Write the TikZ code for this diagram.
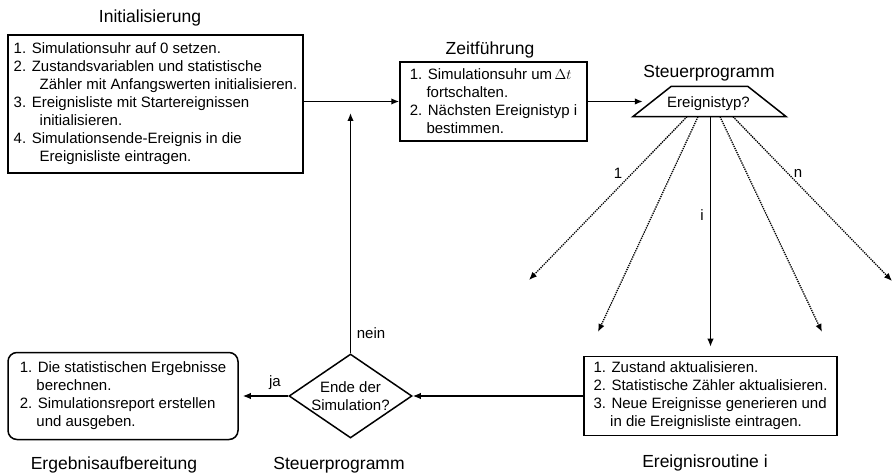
\documentclass[tikz,border=0pt]{standalone}
\usepackage{fontspec}
\setmainfont{Liberation Sans}
\usetikzlibrary{arrows.meta,shapes.geometric}
\newcommand{\boxfont}{\fontsize{15}{18}\selectfont}
\newcommand{\titlefont}{\fontsize{17.5}{21}\selectfont}
\newcommand{\contd}{\hphantom{1.\ }}
\newcommand{\continit}{\hspace*{26pt}}
\begin{document}
\begin{tikzpicture}[x=1pt,y=-1pt,
  box/.style={draw, line width=1.5pt, align=left, font=\boxfont, inner sep=0pt},
  title/.style={font=\titlefont, inner sep=0pt},
  lbl/.style={font=\boxfont, inner sep=0pt},
  arr/.style={line width=1.5pt, -{Latex[length=8pt,width=6.5pt]}},
  darr/.style={line width=1.3pt, densely dotted, -{Latex[length=8pt,width=6.5pt]}}]
\useasboundingbox (0,0) rectangle (895,473);

% titles
\node[title] (tinit) at (150,18) {Initialisierung};
\node[title] (tzeit) at (490,50) {Zeitführung};
\node[title] (tsteuer) at (709,73) {Steuerprogramm};
\node[title] (terg) at (114,465) {Ergebnisaufbereitung};
\node[title] (tsteuer2) at (339,465) {Steuerprogramm};
\node[title] (trout) at (705,463) {Ereignisroutine i};

% process boxes
\node[box, minimum width=295, minimum height=138] (init) at (155.5,104) {%
1. Simulationsuhr auf 0 setzen.\\
2. Zustandsvariablen und statistische\\
\continit Zähler mit Anfangswerten initialisieren.\\
3. Ereignisliste mit Startereignissen\\
\continit initialisieren.\\
4. Simulationsende-Ereignis in die\\
\continit Ereignisliste eintragen.};

\node[box, minimum width=187, minimum height=79] (zeit) at (493.5,101.5) {%
1. Simulationsuhr um\,$\Delta t$\\
\contd fortschalten.\\
2. Nächsten Ereignistyp i\\
\contd bestimmen.};

\node[box, minimum width=253, minimum height=79] (routine) at (710.5,396) {%
1. Zustand aktualisieren.\\
2. Statistische Zähler aktualisieren.\\
3. Neue Ereignisse generieren und\\
\contd in die Ereignisliste eintragen.};

\node[box, rounded corners=9pt, minimum width=230, minimum height=87] (erg) at (123,396) {%
1. Die statistischen Ergebnisse\\
\contd berechnen.\\
2. Simulationsreport erstellen\\
\contd und ausgeben.};

% event type selector (trapezium)
\node[minimum width=153, minimum height=30, inner sep=0pt] (trap) at (709.5,101.5) {};
\draw[line width=1.5pt, line join=miter] (trap.south west) -- ([xshift=38.5pt]trap.north west)
  -- ([xshift=-38.5pt]trap.north east) -- (trap.south east) -- cycle;
\node[lbl] (trapq) at (708.5,103.5) {Ereignistyp?};

% end-of-simulation decision
\node[diamond, draw, line width=1.5pt, minimum width=123, minimum height=84, inner sep=0pt] (dec) at (350.5,396) {};
\node[lbl, align=center] (dectxt) at (dec.center) {Ende der\\Simulation?};

% free ends of the event fan and the loop
\coordinate (e1) at (529,280);
\coordinate (e2) at (598,332);
\coordinate (e4) at (822,332);
\coordinate (e5) at (892,281);
\coordinate (back) at (350.5,113);

% main flow
\draw[arr] (init.east |- zeit.west) -- (zeit.west);
\draw[arr] (zeit.east) -- ([xshift=10pt]trap.west);
\draw[darr] ([xshift=-22.5pt]trap.south) -- (e1);
\draw[darr] ([xshift=-11.5pt]trap.south) -- (e2);
\draw[arr, shorten >=9pt] (trap.south -| routine.north) -- (routine.north);
\draw[darr] ([xshift=10.5pt]trap.south) -- (e4);
\draw[darr] ([xshift=23.5pt]trap.south) -- (e5);
\draw[arr] (routine.west) -- (dec.east);
\draw[arr, shorten >=4pt] (dec.west) -- (erg.east);
\draw[arr] (dec.north) -- (back);

% connector labels
\node[lbl] (l1) at (618,173) {1};
\node[lbl] (li) at (702,215) {i};
\node[lbl] (ln) at (798,173) {n};
\node[lbl] (lja) at (275,383) {ja};
\node[lbl] (lnein) at (371,333) {nein};
\end{tikzpicture}
\end{document}
